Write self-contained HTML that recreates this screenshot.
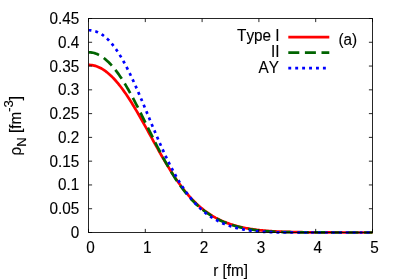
<!DOCTYPE html>
<html><head><meta charset="utf-8"><title>plot</title>
<style>
html,body{margin:0;padding:0;background:#fff;}
body{width:399px;height:279px;overflow:hidden;}
svg{display:block;will-change:transform;}
text{font-family:"Liberation Sans",sans-serif;font-size:15.3px;fill:#000;font-kerning:none;stroke:#000;stroke-width:0.12px;}
</style></head><body>
<svg width="399" height="279" viewBox="0 0 399 279">
<rect width="399" height="279" fill="#fff"/>
<text transform="translate(79.20,237.95) scale(1,1.035)" text-anchor="end">0</text>
<text transform="translate(79.20,214.17) scale(1,1.035)" text-anchor="end">0.05</text>
<text transform="translate(79.20,190.39) scale(1,1.035)" text-anchor="end">0.1</text>
<text transform="translate(79.20,166.62) scale(1,1.035)" text-anchor="end">0.15</text>
<text transform="translate(79.20,142.84) scale(1,1.035)" text-anchor="end">0.2</text>
<text transform="translate(79.20,119.06) scale(1,1.035)" text-anchor="end">0.25</text>
<text transform="translate(79.20,95.28) scale(1,1.035)" text-anchor="end">0.3</text>
<text transform="translate(79.20,71.51) scale(1,1.035)" text-anchor="end">0.35</text>
<text transform="translate(79.20,47.73) scale(1,1.035)" text-anchor="end">0.4</text>
<text transform="translate(79.20,23.95) scale(1,1.035)" text-anchor="end">0.45</text>
<text transform="translate(90.50,253.20) scale(1,1.035)" text-anchor="middle">0</text>
<text transform="translate(147.30,253.20) scale(1,1.035)" text-anchor="middle">1</text>
<text transform="translate(204.10,253.20) scale(1,1.035)" text-anchor="middle">2</text>
<text transform="translate(260.90,253.20) scale(1,1.035)" text-anchor="middle">3</text>
<text transform="translate(317.70,253.20) scale(1,1.035)" text-anchor="middle">4</text>
<text transform="translate(374.50,253.20) scale(1,1.035)" text-anchor="middle">5</text>
<text transform="translate(230.60,275.90) scale(1,1.035)" text-anchor="middle">r [fm]</text>
<text transform="translate(20.50,125.70) rotate(-90) scale(1,1.035)" text-anchor="middle">ρ<tspan font-size="13.01px" dy="5">N</tspan><tspan dy="-5"> [fm</tspan><tspan font-size="13.01px" dy="-7">-3</tspan><tspan dy="7">]</tspan></text>
<text transform="translate(279.60,41.40) scale(1,1.035)" text-anchor="end">Type I</text>
<text transform="translate(279.60,56.90) scale(1,1.035)" text-anchor="end">II</text>
<text transform="translate(278.90,72.60) scale(1,1.035)" text-anchor="end">AY</text>
<text transform="translate(338.50,44.90) scale(1,1.035)" text-anchor="start">(a)</text>
<g fill="none" stroke-width="2.7" stroke-linecap="butt" stroke-linejoin="round">
<path d="M288.3,37.1H329.3" stroke="#ff0000"/>
<path d="M288.3,52.6H329.3" stroke="#006400" stroke-dasharray="11 5.6"/>
<path d="M288.3,68.2H329.3" stroke="#0000ff" stroke-dasharray="2.9 4.025"/>
<path d="M88.50,64.89 L89.64,64.92 L90.77,65.00 L91.91,65.15 L93.04,65.34 L94.18,65.60 L95.32,65.91 L96.45,66.27 L97.59,66.70 L98.72,67.17 L99.86,67.71 L101.00,68.29 L102.13,68.94 L103.27,69.64 L104.40,70.39 L105.54,71.19 L106.68,72.05 L107.81,72.96 L108.95,73.92 L110.08,74.94 L111.22,76.00 L112.36,77.12 L113.49,78.28 L114.63,79.50 L115.76,80.76 L116.90,82.06 L118.04,83.42 L119.17,84.82 L120.31,86.26 L121.44,87.74 L122.58,89.27 L123.72,90.84 L124.85,92.45 L125.99,94.09 L127.12,95.77 L128.26,97.49 L129.40,99.24 L130.53,101.02 L131.67,102.83 L132.80,104.67 L133.94,106.54 L135.08,108.43 L136.21,110.35 L137.35,112.29 L138.48,114.25 L139.62,116.23 L140.76,118.23 L141.89,120.24 L143.03,122.27 L144.16,124.30 L145.30,126.35 L146.44,128.40 L147.57,130.46 L148.71,132.53 L149.84,134.59 L150.98,136.66 L152.12,138.72 L153.25,140.79 L154.39,142.84 L155.52,144.89 L156.66,146.93 L157.80,148.96 L158.93,150.98 L160.07,152.99 L161.20,154.98 L162.34,156.95 L163.48,158.91 L164.61,160.85 L165.75,162.76 L166.88,164.66 L168.02,166.53 L169.16,168.38 L170.29,170.20 L171.43,172.00 L172.56,173.76 L173.70,175.51 L174.84,177.22 L175.97,178.90 L177.11,180.55 L178.24,182.17 L179.38,183.76 L180.52,185.32 L181.65,186.84 L182.79,188.33 L183.92,189.79 L185.06,191.22 L186.20,192.61 L187.33,193.97 L188.47,195.29 L189.60,196.59 L190.74,197.85 L191.88,199.07 L193.01,200.26 L194.15,201.42 L195.28,202.55 L196.42,203.65 L197.56,204.71 L198.69,205.74 L199.83,206.74 L200.96,207.71 L202.10,208.66 L203.24,209.57 L204.37,210.45 L205.51,211.30 L206.64,212.13 L207.78,212.93 L208.92,213.70 L210.05,214.45 L211.19,215.17 L212.32,215.87 L213.46,216.54 L214.60,217.19 L215.73,217.82 L216.87,218.42 L218.00,219.00 L219.14,219.57 L220.28,220.11 L221.41,220.63 L222.55,221.13 L223.68,221.62 L224.82,222.09 L225.96,222.54 L227.09,222.97 L228.23,223.39 L229.36,223.79 L230.50,224.18 L231.64,224.55 L232.77,224.91 L233.91,225.25 L235.04,225.58 L236.18,225.90 L237.32,226.20 L238.45,226.50 L239.59,226.78 L240.72,227.05 L241.86,227.31 L243.00,227.56 L244.13,227.79 L245.27,228.02 L246.40,228.24 L247.54,228.45 L248.68,228.65 L249.81,228.84 L250.95,229.03 L252.08,229.20 L253.22,229.37 L254.36,229.53 L255.49,229.68 L256.63,229.83 L257.76,229.97 L258.90,230.10 L260.04,230.23 L261.17,230.34 L262.31,230.46 L263.44,230.57 L264.58,230.67 L265.72,230.77 L266.85,230.86 L267.99,230.95 L269.12,231.03 L270.26,231.11 L271.40,231.18 L272.53,231.25 L273.67,231.32 L274.80,231.38 L275.94,231.44 L277.08,231.50 L278.21,231.55 L279.35,231.61 L280.48,231.65 L281.62,231.70 L282.76,231.74 L283.89,231.78 L285.03,231.82 L286.16,231.86 L287.30,231.89 L288.44,231.93 L289.57,231.96 L290.71,231.99 L291.84,232.01 L292.98,232.04 L294.12,232.07 L295.25,232.09 L296.39,232.11 L297.52,232.13 L298.66,232.15 L299.80,232.17 L300.93,232.19 L302.07,232.21 L303.20,232.23 L304.34,232.24 L305.48,232.26 L306.61,232.27 L307.75,232.28 L308.88,232.30 L310.02,232.31 L311.16,232.32 L312.29,232.33 L313.43,232.34 L314.56,232.35 L315.70,232.36 L316.84,232.37 L317.97,232.38 L319.11,232.39 L320.24,232.39 L321.38,232.40 L322.52,232.41 L323.65,232.41 L324.79,232.42 L325.92,232.43 L327.06,232.43 L328.20,232.44 L329.33,232.44 L330.47,232.44 L331.60,232.45 L332.74,232.45 L333.88,232.46 L335.01,232.46 L336.15,232.46 L337.28,232.47 L338.42,232.47 L339.56,232.47 L340.69,232.47 L341.83,232.47 L342.96,232.48 L344.10,232.48 L345.24,232.48 L346.37,232.48 L347.51,232.48 L348.64,232.48 L349.78,232.49 L350.92,232.49 L352.05,232.49 L353.19,232.49 L354.32,232.49 L355.46,232.49 L356.60,232.49 L357.73,232.49 L358.87,232.49 L360.00,232.49 L361.14,232.49 L362.28,232.49 L363.41,232.50 L364.55,232.50 L365.68,232.50 L366.82,232.50 L367.96,232.50 L369.09,232.50 L370.23,232.50 L371.36,232.50 L372.50,232.50" stroke="#ff0000"/>
<path d="M88.50,52.25 L89.64,52.29 L90.77,52.38 L91.91,52.54 L93.04,52.77 L94.18,53.05 L95.32,53.41 L96.45,53.82 L97.59,54.30 L98.72,54.85 L99.86,55.45 L101.00,56.12 L102.13,56.85 L103.27,57.65 L104.40,58.50 L105.54,59.42 L106.68,60.40 L107.81,61.44 L108.95,62.54 L110.08,63.70 L111.22,64.92 L112.36,66.19 L113.49,67.53 L114.63,68.91 L115.76,70.36 L116.90,71.86 L118.04,73.41 L119.17,75.01 L120.31,76.67 L121.44,78.37 L122.58,80.12 L123.72,81.92 L124.85,83.77 L125.99,85.65 L127.12,87.58 L128.26,89.55 L129.40,91.55 L130.53,93.59 L131.67,95.67 L132.80,97.77 L133.94,99.91 L135.08,102.07 L136.21,104.26 L137.35,106.47 L138.48,108.70 L139.62,110.95 L140.76,113.22 L141.89,115.50 L143.03,117.79 L144.16,120.08 L145.30,122.39 L146.44,124.70 L147.57,127.01 L148.71,129.32 L149.84,131.63 L150.98,133.93 L152.12,136.22 L153.25,138.50 L154.39,140.78 L155.52,143.03 L156.66,145.28 L157.80,147.50 L158.93,149.71 L160.07,151.89 L161.20,154.05 L162.34,156.18 L163.48,158.29 L164.61,160.37 L165.75,162.43 L166.88,164.45 L168.02,166.44 L169.16,168.39 L170.29,170.32 L171.43,172.21 L172.56,174.06 L173.70,175.88 L174.84,177.66 L175.97,179.40 L177.11,181.11 L178.24,182.77 L179.38,184.40 L180.52,186.00 L181.65,187.55 L182.79,189.06 L183.92,190.54 L185.06,191.98 L186.20,193.38 L187.33,194.74 L188.47,196.07 L189.60,197.36 L190.74,198.61 L191.88,199.83 L193.01,201.01 L194.15,202.15 L195.28,203.26 L196.42,204.34 L197.56,205.39 L198.69,206.40 L199.83,207.38 L200.96,208.33 L202.10,209.25 L203.24,210.14 L204.37,211.00 L205.51,211.83 L206.64,212.64 L207.78,213.42 L208.92,214.17 L210.05,214.90 L211.19,215.61 L212.32,216.29 L213.46,216.94 L214.60,217.58 L215.73,218.19 L216.87,218.79 L218.00,219.36 L219.14,219.92 L220.28,220.45 L221.41,220.97 L222.55,221.46 L223.68,221.95 L224.82,222.41 L225.96,222.86 L227.09,223.29 L228.23,223.71 L229.36,224.11 L230.50,224.50 L231.64,224.87 L232.77,225.23 L233.91,225.58 L235.04,225.92 L236.18,226.24 L237.32,226.55 L238.45,226.85 L239.59,227.13 L240.72,227.41 L241.86,227.67 L243.00,227.93 L244.13,228.17 L245.27,228.40 L246.40,228.63 L247.54,228.84 L248.68,229.04 L249.81,229.24 L250.95,229.43 L252.08,229.60 L253.22,229.77 L254.36,229.94 L255.49,230.09 L256.63,230.24 L257.76,230.37 L258.90,230.51 L260.04,230.63 L261.17,230.75 L262.31,230.86 L263.44,230.97 L264.58,231.07 L265.72,231.16 L266.85,231.25 L267.99,231.33 L269.12,231.41 L270.26,231.48 L271.40,231.55 L272.53,231.62 L273.67,231.68 L274.80,231.73 L275.94,231.79 L277.08,231.84 L278.21,231.88 L279.35,231.92 L280.48,231.96 L281.62,232.00 L282.76,232.04 L283.89,232.07 L285.03,232.10 L286.16,232.13 L287.30,232.15 L288.44,232.18 L289.57,232.20 L290.71,232.22 L291.84,232.24 L292.98,232.26 L294.12,232.28 L295.25,232.29 L296.39,232.31 L297.52,232.32 L298.66,232.33 L299.80,232.35 L300.93,232.36 L302.07,232.37 L303.20,232.38 L304.34,232.39 L305.48,232.39 L306.61,232.40 L307.75,232.41 L308.88,232.41 L310.02,232.42 L311.16,232.43 L312.29,232.43 L313.43,232.44 L314.56,232.44 L315.70,232.45 L316.84,232.45 L317.97,232.45 L319.11,232.46 L320.24,232.46 L321.38,232.46 L322.52,232.47 L323.65,232.47 L324.79,232.47 L325.92,232.47 L327.06,232.48 L328.20,232.48 L329.33,232.48 L330.47,232.48 L331.60,232.48 L332.74,232.49 L333.88,232.49 L335.01,232.49 L336.15,232.49 L337.28,232.49 L338.42,232.49 L339.56,232.49 L340.69,232.49 L341.83,232.49 L342.96,232.49 L344.10,232.49 L345.24,232.49 L346.37,232.50 L347.51,232.50 L348.64,232.50 L349.78,232.50 L350.92,232.50 L352.05,232.50 L353.19,232.50 L354.32,232.50 L355.46,232.50 L356.60,232.50 L357.73,232.50 L358.87,232.50 L360.00,232.50 L361.14,232.50 L362.28,232.50 L363.41,232.50 L364.55,232.50 L365.68,232.50 L366.82,232.50 L367.96,232.50 L369.09,232.50 L370.23,232.50 L371.36,232.50 L372.50,232.50" stroke="#006400" stroke-dasharray="11 5.6"/>
<path d="M88.50,30.24 L89.64,30.27 L90.77,30.36 L91.91,30.51 L93.04,30.72 L94.18,30.99 L95.32,31.32 L96.45,31.71 L97.59,32.17 L98.72,32.70 L99.86,33.29 L101.00,33.95 L102.13,34.68 L103.27,35.47 L104.40,36.34 L105.54,37.28 L106.68,38.29 L107.81,39.37 L108.95,40.52 L110.08,41.74 L111.22,43.04 L112.36,44.40 L113.49,45.83 L114.63,47.33 L115.76,48.91 L116.90,50.54 L118.04,52.25 L119.17,54.02 L120.31,55.85 L121.44,57.75 L122.58,59.71 L123.72,61.73 L124.85,63.81 L125.99,65.95 L127.12,68.14 L128.26,70.39 L129.40,72.68 L130.53,75.03 L131.67,77.42 L132.80,79.86 L133.94,82.33 L135.08,84.85 L136.21,87.40 L137.35,89.99 L138.48,92.60 L139.62,95.24 L140.76,97.91 L141.89,100.59 L143.03,103.30 L144.16,106.01 L145.30,108.74 L146.44,111.48 L147.57,114.22 L148.71,116.96 L149.84,119.70 L150.98,122.43 L152.12,125.16 L153.25,127.87 L154.39,130.57 L155.52,133.26 L156.66,135.92 L157.80,138.56 L158.93,141.18 L160.07,143.77 L161.20,146.33 L162.34,148.86 L163.48,151.36 L164.61,153.82 L165.75,156.24 L166.88,158.63 L168.02,160.97 L169.16,163.27 L170.29,165.53 L171.43,167.74 L172.56,169.91 L173.70,172.04 L174.84,174.12 L175.97,176.15 L177.11,178.13 L178.24,180.07 L179.38,181.95 L180.52,183.79 L181.65,185.58 L182.79,187.33 L183.92,189.02 L185.06,190.67 L186.20,192.27 L187.33,193.83 L188.47,195.34 L189.60,196.80 L190.74,198.22 L191.88,199.59 L193.01,200.92 L194.15,202.21 L195.28,203.46 L196.42,204.66 L197.56,205.83 L198.69,206.95 L199.83,208.04 L200.96,209.09 L202.10,210.10 L203.24,211.08 L204.37,212.03 L205.51,212.94 L206.64,213.81 L207.78,214.66 L208.92,215.47 L210.05,216.26 L211.19,217.01 L212.32,217.74 L213.46,218.44 L214.60,219.11 L215.73,219.76 L216.87,220.38 L218.00,220.98 L219.14,221.55 L220.28,222.11 L221.41,222.64 L222.55,223.15 L223.68,223.64 L224.82,224.10 L225.96,224.55 L227.09,224.99 L228.23,225.40 L229.36,225.79 L230.50,226.17 L231.64,226.54 L232.77,226.88 L233.91,227.21 L235.04,227.53 L236.18,227.83 L237.32,228.12 L238.45,228.39 L239.59,228.66 L240.72,228.90 L241.86,229.14 L243.00,229.37 L244.13,229.58 L245.27,229.78 L246.40,229.97 L247.54,230.15 L248.68,230.33 L249.81,230.49 L250.95,230.64 L252.08,230.78 L253.22,230.92 L254.36,231.05 L255.49,231.16 L256.63,231.28 L257.76,231.38 L258.90,231.48 L260.04,231.57 L261.17,231.65 L262.31,231.73 L263.44,231.80 L264.58,231.87 L265.72,231.93 L266.85,231.99 L267.99,232.04 L269.12,232.09 L270.26,232.13 L271.40,232.17 L272.53,232.20 L273.67,232.24 L274.80,232.27 L275.94,232.29 L277.08,232.32 L278.21,232.34 L279.35,232.36 L280.48,232.38 L281.62,232.39 L282.76,232.41 L283.89,232.42 L285.03,232.43 L286.16,232.44 L287.30,232.45 L288.44,232.45 L289.57,232.46 L290.71,232.47 L291.84,232.47 L292.98,232.48 L294.12,232.48 L295.25,232.48 L296.39,232.48 L297.52,232.49 L298.66,232.49 L299.80,232.49 L300.93,232.49 L302.07,232.49 L303.20,232.49 L304.34,232.49 L305.48,232.49 L306.61,232.49 L307.75,232.50 L308.88,232.50 L310.02,232.50 L311.16,232.50 L312.29,232.50 L313.43,232.50 L314.56,232.50 L315.70,232.50 L316.84,232.50 L317.97,232.50 L319.11,232.50 L320.24,232.50 L321.38,232.50 L322.52,232.50 L323.65,232.50 L324.79,232.50 L325.92,232.50 L327.06,232.50 L328.20,232.50 L329.33,232.50 L330.47,232.50 L331.60,232.50 L332.74,232.50 L333.88,232.50 L335.01,232.50 L336.15,232.50 L337.28,232.50 L338.42,232.50 L339.56,232.50 L340.69,232.50 L341.83,232.50 L342.96,232.50 L344.10,232.50 L345.24,232.50 L346.37,232.50 L347.51,232.50 L348.64,232.50 L349.78,232.50 L350.92,232.50 L352.05,232.50 L353.19,232.50 L354.32,232.50 L355.46,232.50 L356.60,232.50 L357.73,232.50 L358.87,232.50 L360.00,232.50 L361.14,232.50 L362.28,232.50 L363.41,232.50 L364.55,232.50 L365.68,232.50 L366.82,232.50 L367.96,232.50 L369.09,232.50 L370.23,232.50 L371.36,232.50 L372.50,232.50" stroke="#0000ff" stroke-dasharray="2.9 4.025"/>
</g>
<path d="M88.5,232.50h3.6M372.5,232.50h-3.6M88.5,208.72h3.6M372.5,208.72h-3.6M88.5,184.94h3.6M372.5,184.94h-3.6M88.5,161.17h3.6M372.5,161.17h-3.6M88.5,137.39h3.6M372.5,137.39h-3.6M88.5,113.61h3.6M372.5,113.61h-3.6M88.5,89.83h3.6M372.5,89.83h-3.6M88.5,66.06h3.6M372.5,66.06h-3.6M88.5,42.28h3.6M372.5,42.28h-3.6M88.5,18.50h3.6M372.5,18.50h-3.6M88.50,232.5v-3.6M88.50,18.5v3.6M145.30,232.5v-3.6M145.30,18.5v3.6M202.10,232.5v-3.6M202.10,18.5v3.6M258.90,232.5v-3.6M258.90,18.5v3.6M315.70,232.5v-3.6M315.70,18.5v3.6M372.50,232.5v-3.6M372.50,18.5v3.6" stroke="#000" stroke-width="0.85" fill="none"/>
<rect x="88.5" y="18.5" width="284.0" height="214.0" fill="none" stroke="#000" stroke-width="0.85"/>
</svg></body></html>
